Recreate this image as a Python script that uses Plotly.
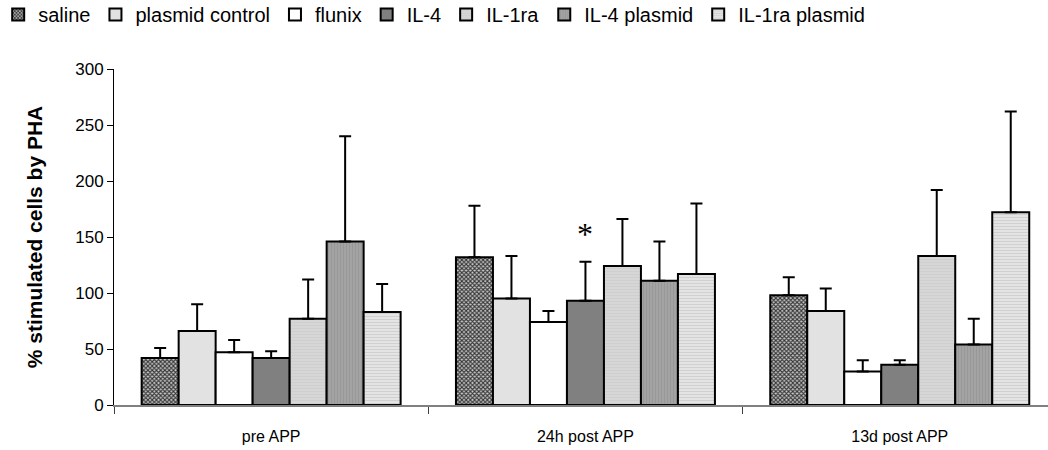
import plotly.graph_objects as go

categories = ["pre APP", "24h post APP", "13d post APP"]
series_names = ["saline", "plasmid control", "flunix", "IL-4", "IL-1ra", "IL-4 plasmid", "IL-1ra plasmid"]

saline = [42, 132, 98]
saline_err = [9, 46, 16]
plasmid_control = [66, 95, 84]
plasmid_control_err = [24, 38, 20]
flunix = [47, 74, 30]
flunix_err = [11, 10, 10]
il4 = [42, 93, 36]
il4_err = [6, 35, 4]
il1ra = [77, 124, 133]
il1ra_err = [35, 42, 59]
il4_plasmid = [146, 111, 54]
il4_plasmid_err = [94, 35, 23]
il1ra_plasmid = [83, 117, 172]
il1ra_plasmid_err = [25, 63, 90]

values = [saline, plasmid_control, flunix, il4, il1ra, il4_plasmid, il1ra_plasmid]
errors = [saline_err, plasmid_control_err, flunix_err, il4_err, il1ra_err, il4_plasmid_err, il1ra_plasmid_err]

styles = [
    dict(color="#b4b4b4", pattern=dict(shape="x", fgcolor="#383838", bgcolor="#c8c8c8", size=3, solidity=0.6, fillmode="replace")),
    dict(color="#e2e2e2"),
    dict(color="#ffffff"),
    dict(color="#808080"),
    dict(color="#d6d6d6", pattern=dict(shape="-", fgcolor="#c8c8c8", size=3, solidity=0.3, fillmode="overlay")),
    dict(color="#a4a4a4", pattern=dict(shape="|", fgcolor="#8c8c8c", size=3, solidity=0.4, fillmode="overlay")),
    dict(color="#e4e4e4", pattern=dict(shape="-", fgcolor="#bcbcbc", size=3, solidity=0.35, fillmode="overlay")),
]

fig = go.Figure()
for name, vals, errs, st in zip(series_names, values, errors, styles):
    marker = dict(color=st["color"], line=dict(color="black", width=2))
    if "pattern" in st:
        marker["pattern"] = st["pattern"]
    fig.add_trace(go.Bar(
        name=name, x=categories, y=vals,
        marker=marker,
        error_y=dict(type="data", array=errs, arrayminus=[0] * len(errs), symmetric=False,
                     color="black", thickness=2, width=6),
    ))

fig.add_annotation(x="24h post APP", y=153, text="*", showarrow=False,
                   font=dict(family="Liberation Serif", size=32, color="black"))

fig.update_layout(
    width=1048, height=450,
    margin=dict(l=114, r=0, t=69, b=45, autoexpand=False),
    paper_bgcolor="white", plot_bgcolor="white",
    barmode="group", bargap=0.176, bargroupgap=0,
    font=dict(family="Liberation Sans, Arial", color="black"),
    legend=dict(orientation="h", x=-0.124, y=1.22, xanchor="left", yanchor="top",
                xref="paper", yref="paper", font=dict(size=20), itemwidth=30,
                traceorder="normal", tracegroupgap=0),
    showlegend=True,
)
fig.update_xaxes(
    range=[-0.5, 2.4717], showline=True, linecolor="#808080", linewidth=2,
    ticks="outside", tickson="boundaries", ticklen=7, tickcolor="#404040", tickwidth=1,
    tickfont=dict(size=16), ticklabelstandoff=16, showgrid=False, zeroline=False,
)
fig.update_yaxes(
    range=[0, 300], dtick=50, showline=True, linecolor="black", linewidth=1,
    ticks="outside", ticklen=6, tickcolor="black", tickfont=dict(size=17),
    showgrid=False, zeroline=False,
    title=dict(text="<b>% stimulated cells by PHA</b>", font=dict(size=21), standoff=26),
)

fig.write_html("out.html")
